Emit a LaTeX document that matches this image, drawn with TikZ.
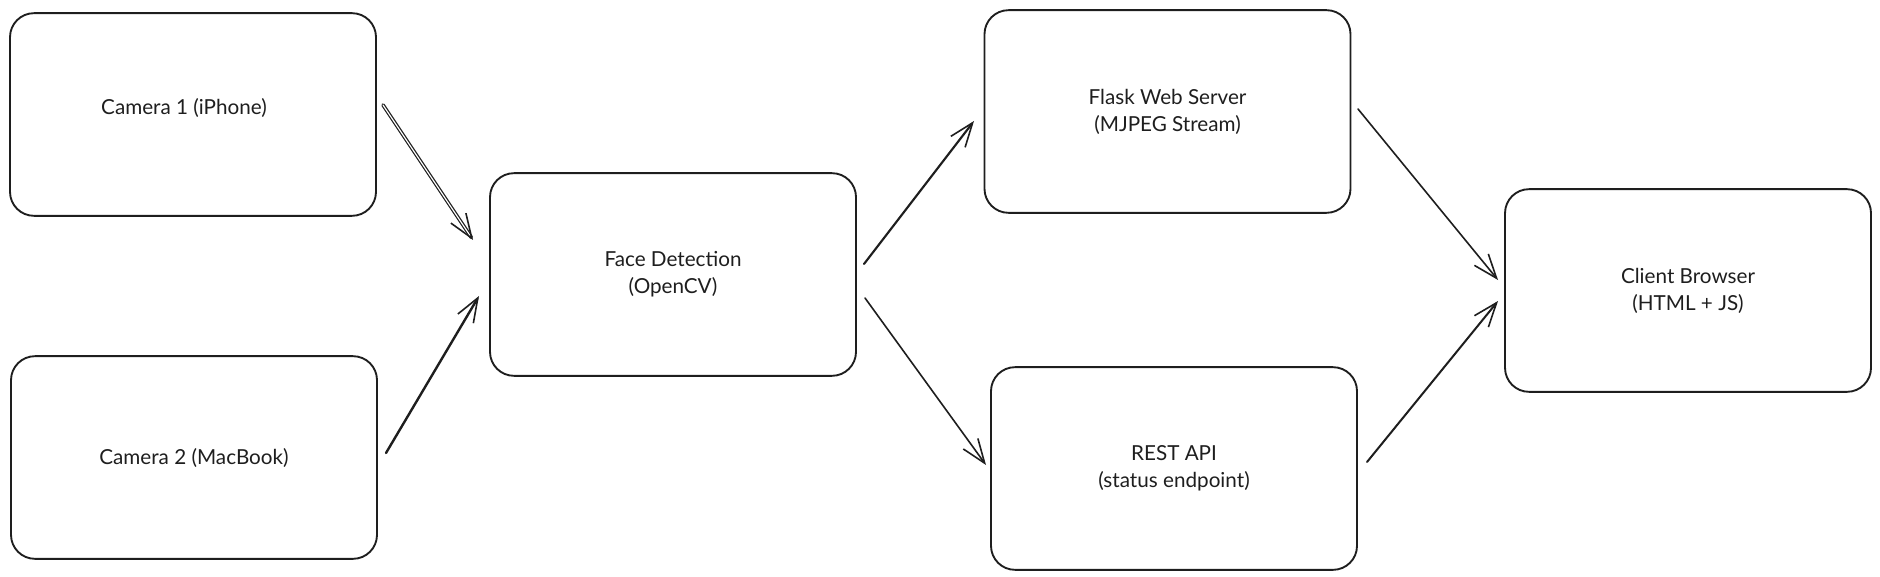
\documentclass[tikz,border=0pt]{standalone}
\usepackage{fontspec}
\setmainfont{Lato}
\usetikzlibrary{arrows.meta}
\definecolor{ink}{HTML}{1E1E1E}
\tikzset{
  boxtext/.style={text=ink, font=\fontsize{15.5pt}{20.25pt}\selectfont, align=center},
  box/.style={draw=ink, line width=1.4pt, rounded corners=18pt,
    minimum width=274.5pt, minimum height=152pt, inner sep=0pt, boxtext},
  arr/.style={draw=ink, line width=1.2pt, line cap=round, line join=round,
    -{Straight Barb[length=18pt,width=13.5pt,line width=1.2pt]}},
}
\begin{document}
\begin{tikzpicture}[x=0.75pt,y=-0.75pt]
\useasboundingbox (0,0) rectangle (1880,577);
\node[box, label={[boxtext, xshift=-6.75pt, yshift=4.9pt]center:Camera 1 (iPhone)}] (cam1) at (193,114.5) {};
\node[box] (cam2) at (194,457.5) {Camera 2 (MacBook)};
\node[box] (face) at (673,274.5) {Face Detection\\(OpenCV)};
\node[box] (flask) at (1167.5,111.5) {Flask Web Server\\(MJPEG Stream)};
\node[box] (rest) at (1174,468.5) {REST API\\(status endpoint)};
\node[box] (client) at (1688,290.5) {Client Browser\\(HTML + JS)};
\coordinate (a1s) at (383,105); \coordinate (a1e) at (473,240);
\coordinate (a2s) at (386,453); \coordinate (a2e) at (479,296);
\coordinate (a3s) at (864,264); \coordinate (a3e) at (974,121);
\coordinate (a4s) at (865,298); \coordinate (a4e) at (986,465);
\coordinate (a5s) at (1358,109); \coordinate (a5e) at (1498,280);
\coordinate (a6s) at (1367,462); \coordinate (a6e) at (1498,301);
\draw[arr, double=white, double distance=0.9pt, line width=0.9pt] (a1s) -- (a1e);
\draw[arr, line width=1.8pt] (a2s) -- (a2e);
\draw[arr, line width=1.6pt] (a3s) -- (a3e);
\draw[arr, line width=1.2pt] (a4s) -- (a4e);
\draw[arr, line width=1.2pt] (a5s) -- (a5e);
\draw[arr, line width=1.5pt] (a6s) -- (a6e);
\end{tikzpicture}
\end{document}
